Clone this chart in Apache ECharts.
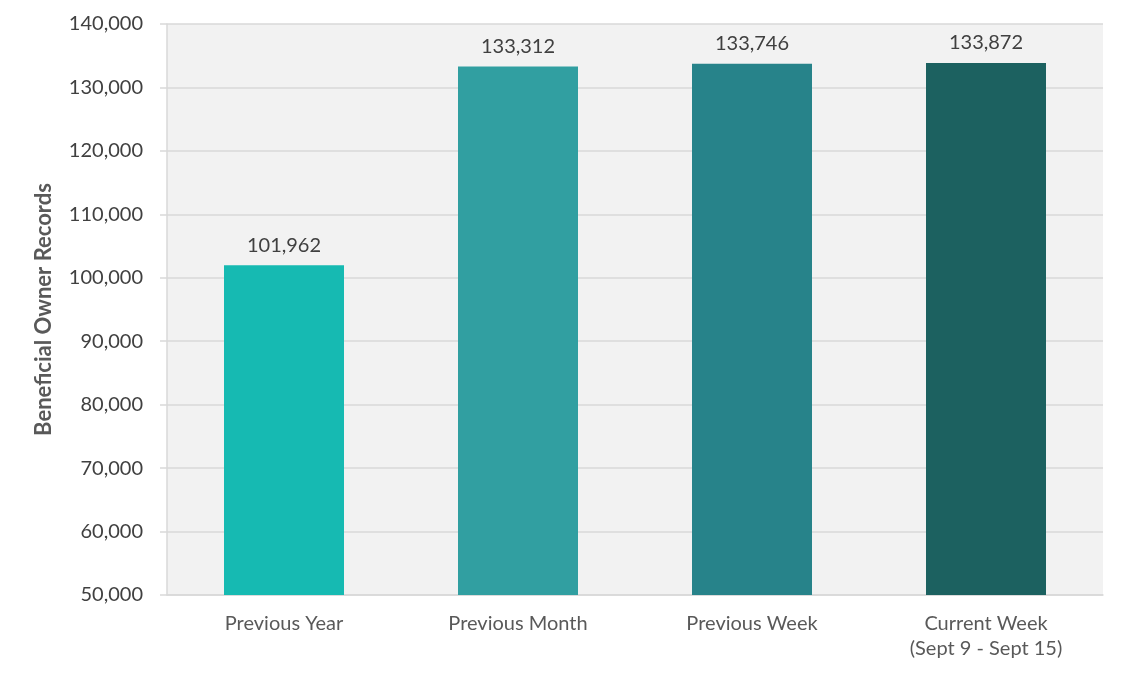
<!DOCTYPE html>
<html><head><meta charset="utf-8">
<script src="https://cdn.jsdelivr.net/npm/echarts@6/dist/echarts.min.js"></script>
<style>html,body{margin:0;padding:0;background:#fff}#c{width:1127px;height:677px}</style>
</head><body><div id="c"></div>
<script>
const categories = ['Previous Year', 'Previous Month', 'Previous Week', 'Current Week\n(Sept 9 - Sept 15)'];
const values = [101962, 133312, 133746, 133872];
const barColors = ['#16BAB2', '#319FA1', '#27838A', '#1C6160'];
const yTitle = 'Beneficial Owner Records';
const F = 'Lato, "Open Sans", sans-serif';
const chart = echarts.init(document.getElementById('c'));
chart.setOption({
  animation: false,
  grid: {left: 167, right: 24, top: 24, bottom: 82, show: true, backgroundColor: '#F2F2F2', borderWidth: 0},
  xAxis: {
    type: 'category', data: categories,
    axisLine: {show: true, lineStyle: {color: '#D9D9D9', width: 1.5}},
    axisTick: {show: false},
    axisLabel: {color: '#595959', fontSize: 20, fontFamily: F, margin: 16, lineHeight: 25}
  },
  yAxis: {
    type: 'value', min: 50000, max: 140000, interval: 10000,
    name: yTitle, nameLocation: 'middle', nameGap: 112,
    nameTextStyle: {color: '#595959', fontSize: 22, fontWeight: 'bold', fontFamily: F},
    axisLine: {show: true, lineStyle: {color: '#D9D9D9', width: 1.5}},
    axisTick: {show: true, length: 7, lineStyle: {color: '#D9D9D9', width: 1.5}},
    splitLine: {lineStyle: {color: '#D9D9D9', width: 1.5}},
    axisLabel: {color: '#404040', fontSize: 20, fontFamily: F, margin: 24,
      formatter: v => v.toLocaleString('en-US')}
  },
  series: [{
    type: 'bar', barWidth: 120,
    data: values.map((v, i) => ({value: v, itemStyle: {color: barColors[i]}})),
    label: {show: true, position: 'top', distance: 10, color: '#404040', fontSize: 20, fontFamily: F,
      formatter: p => p.value.toLocaleString('en-US')}
  }]
});
</script></body></html>
